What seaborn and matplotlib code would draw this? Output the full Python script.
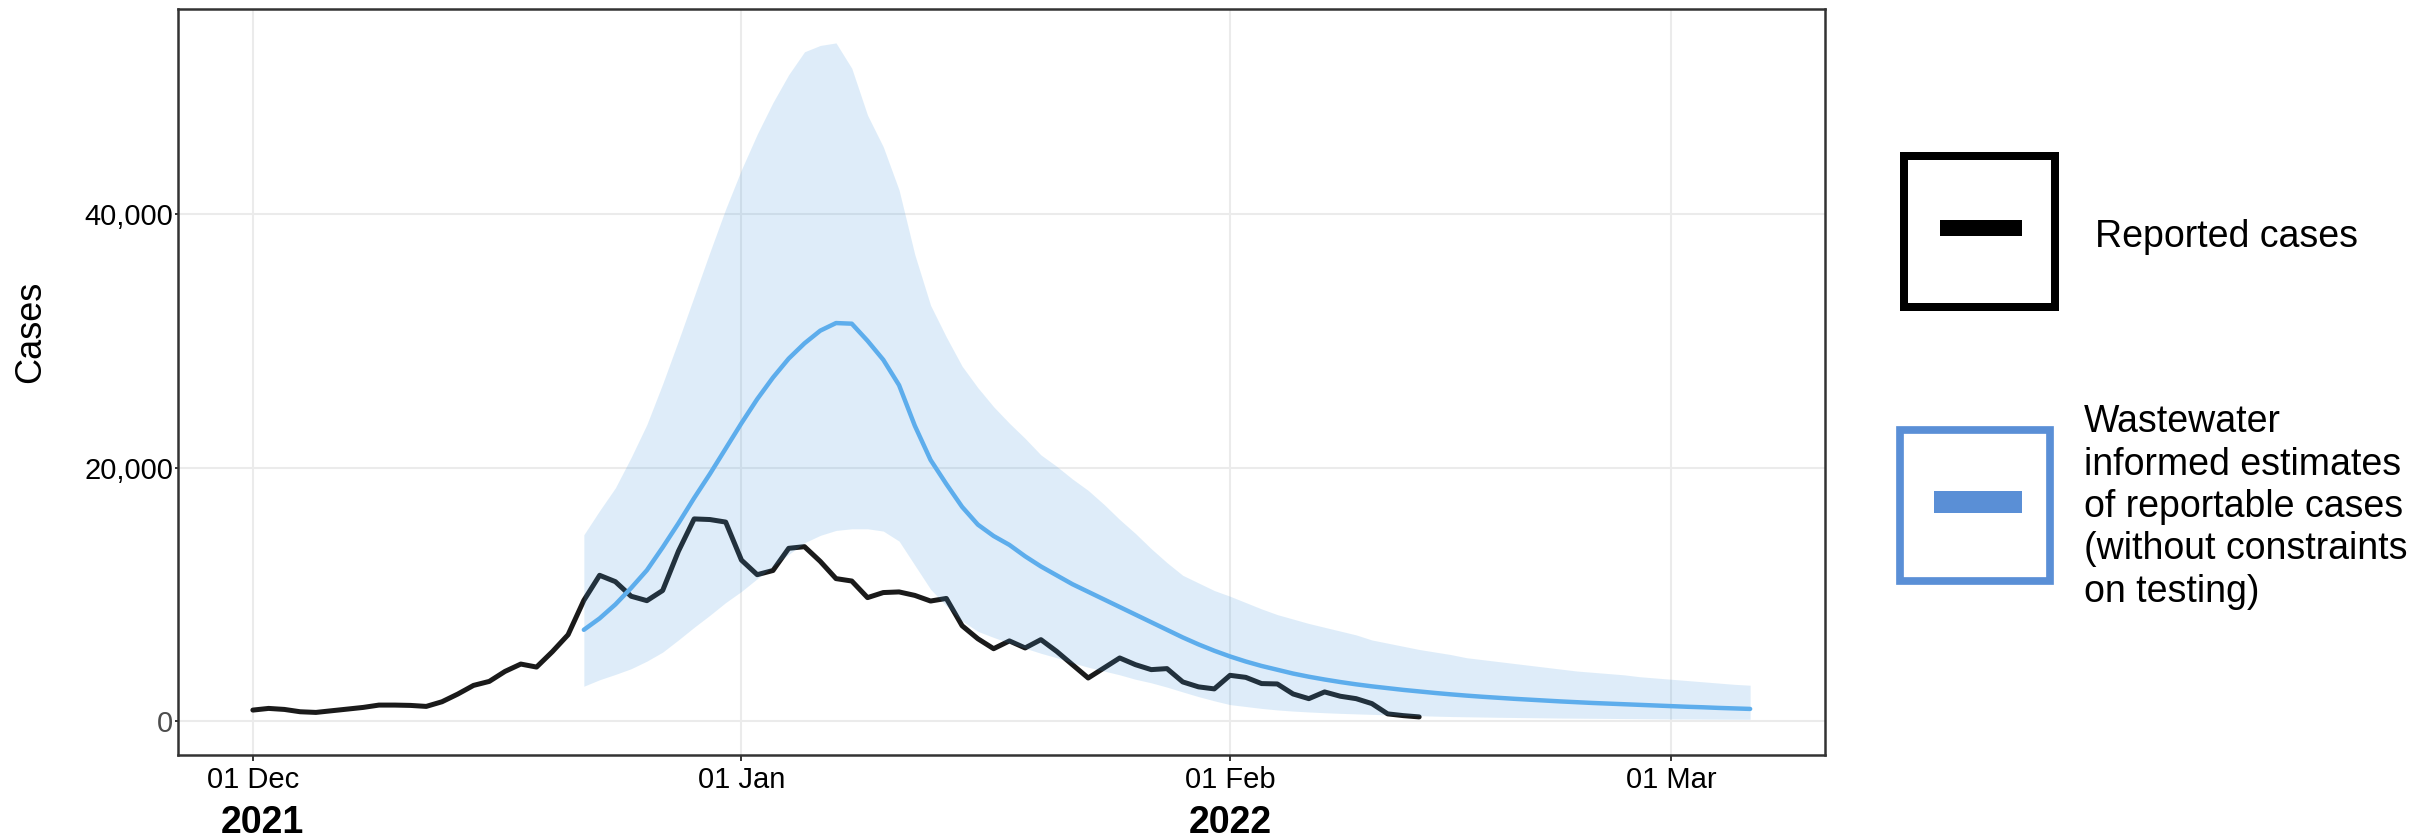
import matplotlib
matplotlib.use("Agg")
import matplotlib.pyplot as plt
import matplotlib.dates as mdates
import matplotlib.ticker as mticker
from matplotlib.patches import Rectangle
import numpy as np
import pandas as pd
import seaborn as sns

# reported cases, one value per day from 01 Dec 2021
reported_start = "2021-12-01"
reported_cases = [
    868, 1000, 920, 737, 684, 816, 947, 1079, 1263, 1263,
    1237, 1158, 1526, 2131, 2815, 3131, 3920, 4499, 4262, 5472,
    6814, 9524, 11500, 11000, 9850, 9500, 10300, 13400, 15950, 15900,
    15700, 12700, 11550, 11880, 13630, 13760, 12600, 11240, 11050, 9740,
    10140, 10190, 9915, 9471, 9676, 7522, 6496, 5710, 6325, 5770,
    6425, 5500, 4450, 3400, 4190, 4980, 4450, 4060, 4140, 3090,
    2700, 2540, 3610, 3450, 2960, 2930, 2140, 1770, 2300, 1960,
    1770, 1380, 570, 430, 330,
]

# wastewater informed estimates, one value per day from 22 Dec 2021
estimate_start = "2021-12-22"
estimate_median = [
    7200, 8100, 9200, 10500, 11900, 13700, 15600, 17600, 19500, 21500,
    23500, 25400, 27100, 28600, 29800, 30800, 31400, 31350, 30000, 28500,
    26500, 23300, 20600, 18700, 16900, 15500, 14600, 13900, 13000, 12200,
    11500, 10800, 10200, 9600, 9000, 8400, 7800, 7200, 6600, 6050,
    5550, 5100, 4700, 4350, 4050, 3750, 3500, 3280, 3080, 2900,
    2740, 2600, 2460, 2340, 2220, 2110, 2010, 1920, 1840, 1760,
    1690, 1620, 1550, 1490, 1430, 1380, 1330, 1280, 1230, 1180,
    1130, 1090, 1040, 1000, 960,
]
estimate_upper = [
    14700, 16600, 18400, 20800, 23400, 26600, 30000, 33500, 37000, 40400,
    43500, 46300, 48800, 51000, 52800, 53300, 53500, 51500, 47800, 45300,
    41900, 36800, 32800, 30300, 28000, 26300, 24800, 23500, 22300, 21000,
    20100, 19100, 18200, 17100, 15900, 14800, 13600, 12500, 11500, 10900,
    10300, 9850, 9350, 8850, 8400, 8050, 7700, 7400, 7100, 6800,
    6400, 6150, 5900, 5650, 5450, 5250, 5000, 4850, 4700, 4550,
    4400, 4250, 4100, 3950, 3850, 3750, 3650, 3500, 3400, 3300,
    3200, 3100, 3000, 2900, 2830,
]
estimate_lower = [
    2750, 3260, 3680, 4130, 4730, 5440, 6400, 7400, 8350, 9350,
    10230, 11230, 12230, 13150, 14070, 14650, 15040, 15170, 15170, 14990,
    14200, 12300, 10400, 9100, 7900, 7080, 6600, 6150, 5750, 5350,
    5000, 4600, 4250, 3950, 3650, 3300, 3020, 2680, 2300, 1930,
    1600, 1300, 1150, 1000, 880, 790, 720, 660, 610, 570,
    530, 490, 460, 430, 390, 360, 340, 320, 300, 285,
    270, 255, 240, 230, 220, 210, 200, 190, 180, 170,
    165, 160, 155, 150, 145,
]

y_ticks = [0, 20000, 40000]
x_ticks = ["2021-12-01", "2022-01-01", "2022-02-01", "2022-03-01"]
year_labels = [("2021-12-01", "2021", 0.6), ("2022-02-01", "2022", 0.0)]
legend_labels = [
    "Reported cases",
    "Wastewater\ninformed estimates\nof reportable cases\n(without constraints\non testing)",
]

reported = pd.DataFrame({
    "date": pd.date_range(reported_start, periods=len(reported_cases), freq="D"),
    "cases": reported_cases,
})
estimates = pd.DataFrame({
    "date": pd.date_range(estimate_start, periods=len(estimate_median), freq="D"),
    "median": estimate_median,
    "lower": estimate_lower,
    "upper": estimate_upper,
})

BLACK = "#1a1a1a"
LINE_BLUE = "#5dadec"
BAND_BLUE = "#4a9be0"
KEY_BLUE = "#5a8fd6"
FRAME = "#333333"

sns.set_theme(style="white")
plt.rcParams["font.family"] = ["Liberation Sans", "DejaVu Sans"]

W, H = 2410, 840
fig = plt.figure(figsize=(W / 100, H / 100), dpi=100)
ax = fig.add_axes([178 / W, 1 - 755 / H, (1825 - 178) / W, (755 - 9) / H])

sns.lineplot(data=reported, x="date", y="cases", color=BLACK, linewidth=3.6,
             ax=ax, legend=False, zorder=3)
ax.fill_between(estimates["date"], estimates["lower"], estimates["upper"],
                color=BAND_BLUE, alpha=0.18, lw=0, zorder=4)
sns.lineplot(data=estimates, x="date", y="median", color=LINE_BLUE, linewidth=3.2,
             ax=ax, legend=False, zorder=5)

# ggplot-style 5% expansion around the data
x_min = mdates.date2num(reported["date"].min())
x_max = mdates.date2num(estimates["date"].max())
pad_x = 0.05 * (x_max - x_min)
ax.set_xlim(x_min - pad_x, x_max + pad_x)
y_top = max(estimate_upper)
ax.set_ylim(-0.05 * y_top, 1.05 * y_top)

ax.set_xticks(pd.to_datetime(x_ticks))
ax.xaxis.set_major_formatter(mdates.DateFormatter("%d %b"))
ax.set_yticks(y_ticks)
ax.yaxis.set_major_formatter(mticker.StrMethodFormatter("{x:,.0f}"))
ax.grid(True, color="#ebebeb", lw=1.5, zorder=0)
ax.set_axisbelow(True)

for s in ax.spines.values():
    s.set_color(FRAME)
    s.set_linewidth(1.8)
    s.set_visible(True)

ax.tick_params(axis="x", bottom=True, length=4, width=1.4, color=FRAME,
               pad=4, labelsize=21, labelcolor="black")
ax.tick_params(axis="y", left=True, length=2, width=1.4, color=FRAME,
               pad=1.5, labelsize=21, labelcolor="black")
ax.get_yticklabels()[0].set_color("#4d4d4d")

ax.set_xlabel("")
ax.set_ylabel("Cases", fontsize=26, color="black")
ax.yaxis.set_label_coords(-0.079, 0.567)

# year labels sit under the first tick of each year
for d, lab, shift in year_labels:
    ax.text(mdates.date2num(pd.Timestamp(d)) + shift, -0.105, lab,
            transform=ax.get_xaxis_transform(), ha="center", va="baseline",
            fontsize=27, fontweight="bold", color="black")


# legend keys drawn in figure pixels (top-left origin)
def key_box(x0, y0, x1, y1, border, color):
    h = border / 2
    fig.add_artist(Rectangle(((x0 + h) / W, 1 - (y1 - h) / H),
                             (x1 - x0 - border) / W, (y1 - y0 - border) / H,
                             transform=fig.transFigure, fill=False,
                             ec=color, lw=border * 0.72, joinstyle="miter"))


def key_dash(x0, y0, x1, y1, color):
    fig.add_artist(Rectangle((x0 / W, 1 - y1 / H), (x1 - x0) / W, (y1 - y0) / H,
                             transform=fig.transFigure, fc=color, ec="none"))


key_box(1900, 152, 2059, 310.5, 8, "black")
key_dash(1940, 220, 2022, 235.5, "black")
key_box(1896.5, 426, 2054, 585, 7.7, KEY_BLUE)
key_dash(1933.5, 491, 2022, 513, KEY_BLUE)

fig.text(2095 / W, 1 - 237 / H, legend_labels[0], fontsize=27,
         va="center", ha="left", color="black")
fig.text(2084 / W, 1 - 507 / H, legend_labels[1], fontsize=27,
         va="center", ha="left", color="black", linespacing=1.23)

fig.savefig("out.png", dpi=100, facecolor="white")
